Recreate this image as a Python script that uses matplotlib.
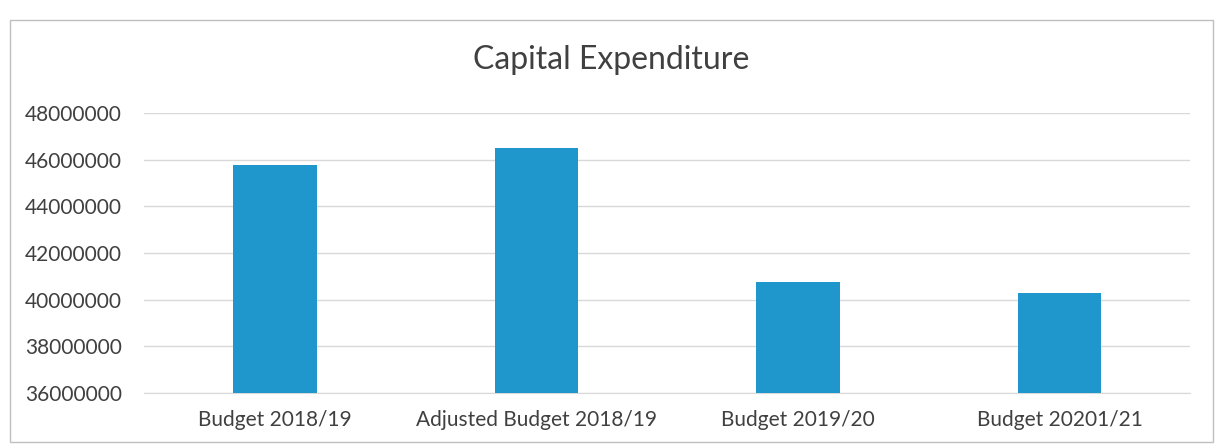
import matplotlib.pyplot as plt
from matplotlib.patches import Rectangle

# data
categories = ['Budget 2018/19', 'Adjusted Budget 2018/19', 'Budget 2019/20', 'Budget 20201/21']
capex = [45750000, 46480000, 40770000, 40300000]
yticks = [36000000, 38000000, 40000000, 42000000, 44000000, 46000000, 48000000]

plt.rcParams['font.family'] = ['Lato', 'DejaVu Sans']
text_col = '#404040'

fig = plt.figure(figsize=(12.22, 4.46), dpi=100)
fig.patch.set_facecolor('white')

# outer chart border
fig.patches.append(Rectangle((0.008, 0.01), 0.985, 0.945, transform=fig.transFigure,
                             fill=False, edgecolor='#bfbfbf', linewidth=1.0))

ax = fig.add_axes([0.118, 0.119, 0.856, 0.628])
ax.bar(range(len(categories)), capex, width=0.32, color='#1f96cc', zorder=3)

ax.set_ylim(36000000, 48000000)
ax.set_xlim(-0.5, len(categories) - 0.5)
ax.set_yticks(yticks)
ax.set_yticklabels([str(v) for v in yticks])
ax.set_xticks(range(len(categories)))
ax.set_xticklabels(categories)

ax.grid(axis='y', color='#d9d9d9', linewidth=1.0, zorder=0)
for s in ['top', 'right', 'left']:
    ax.spines[s].set_visible(False)
ax.spines['bottom'].set_color('#d9d9d9')
ax.tick_params(axis='both', length=0, labelsize=15, colors=text_col)
ax.tick_params(axis='y', pad=16)
ax.tick_params(axis='x', pad=12)

fig.text(0.5, 0.865, 'Capital Expenditure', ha='center', va='center',
         fontsize=23, color=text_col)

fig.savefig('out.png', dpi=100)
